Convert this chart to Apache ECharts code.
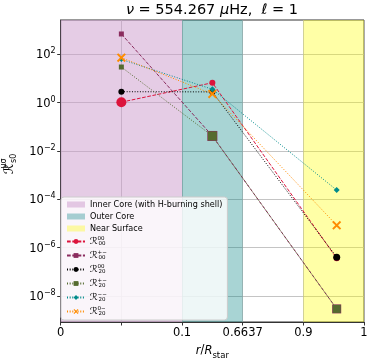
<!DOCTYPE html>
<html>
<head>
<meta charset="utf-8">
<script src="https://cdn.jsdelivr.net/npm/echarts@6/dist/echarts.min.js"></script>
<style>html,body{margin:0;padding:0;background:#fff}#c{width:374px;height:360px}</style>
</head>
<body>
<div id="c"></div>
<script>
// ---- data ----
const xPositions = [1, 2.5, 4.55];           // axis-space positions of the three radial points
const xTickLabels = ['0', '', '0.1', '0.6637', '0.9', '1'];
const yTickExponents = [-8, -6, -4, -2, 0, 2];
const regionNames = ['Inner Core (with H-burning shell)', 'Outer Core', 'Near Surface'];
const regionStarts = [0, 2, 4];
const regionEnds = [2, 3, 5];
const seriesNames = ['R00_00', 'R00_pm', 'R20_00', 'R20_pm', 'R20_mm', 'R20_0m'];
const R00_00 = [1.05, 6.7, 3.6e-7];
const R00_pm = [700, 0.042, 2.9e-9];
const R20_00 = [2.85, 2.8, 4.0e-7];
const R20_pm = [30, 0.042, 2.9e-9];
const R20_mm = [62, 3.6, 2.4e-4];
const R20_0m = [73, 2.3, 8.4e-6];

// ---- styles ----
const FONT = 'DejaVu Sans';
const regionColors = ['rgba(204,153,204,0.5)', 'rgba(0,128,128,0.34)', 'rgba(255,255,0,0.35)'];
const crossPath = 'path://M1.5,0 L5,3.5 L8.5,0 L10,1.5 L6.5,5 L10,8.5 L8.5,10 L5,6.5 L1.5,10 L0,8.5 L3.5,5 L0,1.5 Z';
const DASH = [3.7, 1.6], DOT = [1, 1.65];
const styles = {
  R00_00: {color: '#DC143C', dash: DASH, symbol: 'circle', sizes: [10, 6, 6], sup: '00', sub: '00'},
  R00_pm: {color: '#8a2c5e', dash: DASH, symbol: 'rect', sizes: [5, 10, 9], sup: '+\u2212', sub: '00'},
  R20_00: {color: '#000000', dash: DOT, symbol: 'circle', sizes: [6, 6, 7], sup: '00', sub: '20'},
  R20_pm: {color: '#556B2F', dash: DOT, symbol: 'rect', sizes: [5, 9, 8], sup: '+\u2212', sub: '20'},
  R20_mm: {color: '#008B8B', dash: DOT, symbol: 'diamond', sizes: [5, 6, 6], sup: '\u2212\u2212', sub: '20'},
  R20_0m: {color: '#FF8C00', dash: DOT, symbol: crossPath, sizes: [9, 9, 9], sup: '0\u2212', sub: '20'}
};
const seriesData = {R00_00, R00_pm, R20_00, R20_pm, R20_mm, R20_0m};
const yTickValues = yTickExponents.map(e => Math.pow(10, e));

const series = [];
regionNames.forEach((n, i) => {
  series.push({
    name: n, type: 'line', data: [], silent: true, z: 1,
    itemStyle: {color: regionColors[i]},
    markArea: {silent: true, itemStyle: {color: regionColors[i]},
      data: [[{xAxis: regionStarts[i]}, {xAxis: regionEnds[i]}]]}
  });
});
seriesNames.forEach((n, k) => {
  const s = styles[n];
  series.push({
    name: n, type: 'line', z: 3 + k,
    data: xPositions.map((x, i) => [x, seriesData[n][i]]),
    symbol: s.symbol,
    symbolSize: (v, p) => s.sizes[p.dataIndex],
    showAllSymbol: true,
    itemStyle: {color: s.color, borderWidth: 0},
    lineStyle: {color: s.color, width: 1, type: s.dash},
    animation: false
  });
});

const legendRich = {
  r: {fontFamily: FONT, fontSize: 9.5, fontStyle: 'italic', lineHeight: 11, verticalAlign: 'middle'},
  sp: {fontFamily: FONT, fontSize: 5.5, width: 1, lineHeight: 11, verticalAlign: 'top'},
  sb: {fontFamily: FONT, fontSize: 5.5, lineHeight: 11, verticalAlign: 'bottom'}
};

const supRich = {
  b: {fontFamily: FONT, fontSize: 11.5, color: '#000', lineHeight: 14, verticalAlign: 'bottom'},
  s: {fontFamily: FONT, fontSize: 8, color: '#000', lineHeight: 14, verticalAlign: 'top'}
};

const chart = echarts.init(document.getElementById('c'), null, {renderer: 'canvas'});
chart.setOption({
  animation: false,
  backgroundColor: '#fff',
  grid: {left: 60.7, right: 10, top: 20, bottom: 38, outerBoundsMode: 'none', containLabel: false,
    show: true, borderColor: '#333', borderWidth: 1, backgroundColor: 'transparent'},
  graphic: [{
    type: 'text', x: 212, y: 3, z: 10,
    style: {
      text: '{i|\u03bd} = 554.267 {i|\u03bc}Hz,  {i|\u2113} = 1',
      align: 'center', fill: '#000',
      font: '14.5px "DejaVu Sans"',
      rich: {i: {fontFamily: FONT, fontStyle: 'italic', fontSize: 14.5}}
    }
  }],
  xAxis: {
    type: 'value', min: 0, max: 5, interval: 1,
    axisLine: {show: true, lineStyle: {color: '#333'}},
    axisTick: {show: true, length: 3.5, lineStyle: {color: '#333'}},
    axisLabel: {fontFamily: FONT, fontSize: 11.5, color: '#000', margin: 5,
      formatter: v => xTickLabels[Math.round(v)] ?? ''},
    splitLine: {show: true, lineStyle: {color: 'rgba(176,176,176,0.75)', width: 1}},
    name: '{i|r}/{i|R}{s|star}', nameLocation: 'middle', nameGap: 20,
    nameTextStyle: {fontFamily: FONT, fontSize: 11.5, color: '#000',
      rich: {i: {fontFamily: FONT, fontStyle: 'italic', fontSize: 11.5, lineHeight: 14, verticalAlign: 'bottom'},
             s: {fontFamily: FONT, fontSize: 8.5, lineHeight: 14, verticalAlign: 'bottom', padding: [0, 0, -3, 0]}}}
  },
  yAxis: {
    type: 'log', logBase: 10, min: Math.pow(10, -9.08), max: Math.pow(10, 3.424),
    axisLine: {show: true, lineStyle: {color: '#333'}},
    axisTick: {show: true, length: 3.5, lineStyle: {color: '#333'}, customValues: yTickValues},
    axisLabel: {fontFamily: FONT, color: '#000', margin: 5, customValues: yTickValues,
      formatter: v => {
        const e = Math.round(Math.log10(v));
        return '{b|10}{s|' + (e < 0 ? '\u2212' + (-e) : e) + '}';
      },
      rich: supRich},
    splitLine: {show: true, lineStyle: {color: 'rgba(176,176,176,0.75)', width: 1}},
    minorTick: {show: false},
    name: '{r|\u211b}{sp|\u03bc\u03c3}{sb|s0}', nameLocation: 'middle', nameGap: 38, nameRotate: 90,
    nameTextStyle: {fontFamily: FONT, color: '#000', padding: [0, 0, 0, 14],
      rich: {r: {fontFamily: FONT, fontSize: 13, fontStyle: 'italic', lineHeight: 18, verticalAlign: 'middle'},
             sp: {fontFamily: FONT, fontSize: 8, width: 1, lineHeight: 18, verticalAlign: 'top'},
             sb: {fontFamily: FONT, fontSize: 8, lineHeight: 18, verticalAlign: 'bottom'}}}
  },
  legend: {
    orient: 'vertical', left: 61, top: 197,
    itemWidth: 18, itemHeight: 6, itemGap: 3,
    padding: [3, 5, 3, 5],
    backgroundColor: 'rgba(255,255,255,0.8)', borderColor: '#cccccc', borderWidth: 1, borderRadius: 3,
    textStyle: {fontFamily: FONT, fontSize: 8.1, color: '#000', lineHeight: 9, rich: legendRich},
    data: regionNames.map((n, i) => ({name: n, icon: 'rect', itemStyle: {color: regionColors[i]}}))
      .concat(seriesNames.map(n => ({name: n}))),
    formatter: name => {
      const s = styles[name];
      if (!s) return name;
      return '{r|\u211b}{sp|' + s.sup + '}{sb|' + s.sub + '}';
    },
    selectedMode: false
  },
  series: series
});
</script>
</body>
</html>
